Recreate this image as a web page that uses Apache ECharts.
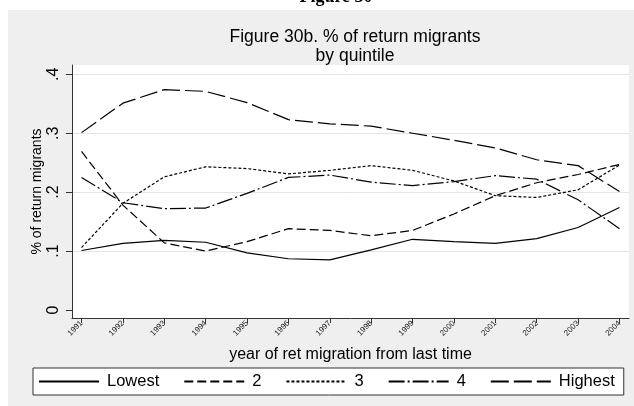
<!DOCTYPE html>
<html>
<head>
<meta charset="utf-8">
<script src="https://cdn.jsdelivr.net/npm/echarts@6/dist/echarts.min.js"></script>
<style>
  html, body { margin: 0; padding: 0; background: #ffffff; }
  #chart { width: 634px; height: 406px; }
</style>
</head>
<body>
<div id="chart"></div>
<script>
// Years of return migration (x axis)
var years = [1991, 1992, 1993, 1994, 1995, 1996, 1997, 1998, 1999, 2000, 2001, 2002, 2003, 2004];

// Share of return migrants by income quintile
var lowest  = [0.101, 0.113, 0.118, 0.115, 0.097, 0.087, 0.085, 0.102, 0.120, 0.116, 0.113, 0.121, 0.140, 0.174];
var q2      = [0.269, 0.178, 0.114, 0.100, 0.116, 0.138, 0.135, 0.126, 0.135, 0.163, 0.194, 0.216, 0.230, 0.247];
var q3      = [0.106, 0.181, 0.226, 0.243, 0.240, 0.231, 0.237, 0.245, 0.237, 0.219, 0.194, 0.191, 0.204, 0.246];
var q4      = [0.225, 0.182, 0.172, 0.173, 0.198, 0.225, 0.229, 0.217, 0.211, 0.218, 0.228, 0.222, 0.187, 0.138];
var highest = [0.301, 0.351, 0.374, 0.371, 0.352, 0.323, 0.316, 0.312, 0.300, 0.288, 0.275, 0.255, 0.245, 0.201];

// Tick values
var yTicks = [0, 0.1, 0.2, 0.3, 0.4];
var xTicks = years;

var seriesNames = ['Lowest', '2', '3', '4', 'Highest'];
var seriesData = [lowest, q2, q3, q4, highest];
var dashes = ['solid', [9, 4], [3, 2], [16, 3, 2, 3], [18, 5]];

function pairs(values) {
  return years.map(function (y, i) { return [y, values[i]]; });
}

var FONT = '"Liberation Sans", Arial, Helvetica, sans-serif';

var chart = echarts.init(document.getElementById('chart'), null, { renderer: 'canvas' });

var option = {
  animation: false,
  backgroundColor: '#ffffff',
  graphic: [
    { type: 'rect', z: -10, shape: { x: 8, y: 10, width: 626, height: 396 }, style: { fill: '#efefef' } },
    // page heading above the figure, cut off by the top edge
    { type: 'text', z: -5, x: 336, y: 6.5,
      style: { text: 'Figure 30', fill: '#000', font: 'bold 18px "Liberation Serif", "Times New Roman", serif',
               align: 'center', verticalAlign: 'bottom' } }
  ],
  title: {
    text: 'Figure 30b. % of return migrants\nby quintile',
    left: 350,
    top: 23,
    textAlign: 'center',
    textStyle: { fontFamily: FONT, fontSize: 17.5, fontWeight: 'normal', color: '#000', lineHeight: 19 }
  },
  grid: {
    left: 72, right: 5, top: 65, bottom: 88,
    show: true, backgroundColor: '#ffffff', borderWidth: 0
  },
  legend: {
    left: 33, top: 368,
    itemWidth: 60, itemHeight: 14, itemGap: 24,
    padding: [5, 9, 5, 5],
    backgroundColor: '#ffffff',
    borderColor: '#333333', borderWidth: 1,
    itemStyle: { opacity: 0, color: 'transparent', borderWidth: 0 },
    textStyle: { fontFamily: FONT, fontSize: 16.5, color: '#000', padding: [0, 0, 0, 3] },
    data: seriesNames
  },
  xAxis: {
    type: 'value',
    min: 1990.770, max: 2004.230,
    name: 'year of ret migration from last time',
    nameLocation: 'middle',
    nameGap: 29,
    nameTextStyle: { fontFamily: FONT, fontSize: 16, color: '#000' },
    axisLine: { show: true, onZero: false, lineStyle: { color: '#333', width: 1 } },
    axisTick: { show: true, length: 5, customValues: xTicks, lineStyle: { color: '#333' } },
    axisLabel: {
      customValues: xTicks, rotate: 45, fontSize: 8, fontFamily: FONT, color: '#222', margin: 4,
      formatter: function (v) { return String(Math.round(v)); }
    },
    splitLine: { show: false }
  },
  yAxis: {
    type: 'value',
    min: -0.01358, max: 0.41578,
    name: '% of return migrants',
    nameLocation: 'middle',
    nameGap: 28,
    nameMoveOverlap: false,
    nameTextStyle: { fontFamily: FONT, fontSize: 14, color: '#000' },
    axisLine: { show: true, onZero: false, lineStyle: { color: '#333', width: 1 } },
    axisTick: { show: true, length: 6, customValues: yTicks, lineStyle: { color: '#333' } },
    axisLabel: {
      customValues: yTicks, rotate: 90, fontSize: 16, fontFamily: FONT, color: '#000', margin: 10,
      formatter: function (v) { return v === 0 ? '0' : v.toFixed(1).replace(/^0/, ''); }
    },
    splitLine: { show: true, lineStyle: { color: ['#ffffff', '#e4e4e4', '#e4e4e4', '#e4e4e4', '#e4e4e4'], width: 1 } }
  },
  series: seriesNames.map(function (name, i) {
    return {
      name: name,
      type: 'line',
      data: pairs(seriesData[i]),
      symbol: 'none',
      smooth: false,
      lineStyle: { color: '#000', width: 1.2, type: dashes[i] },
      itemStyle: { color: '#000' }
    };
  })
};

chart.setOption(option);
</script>
</body>
</html>
